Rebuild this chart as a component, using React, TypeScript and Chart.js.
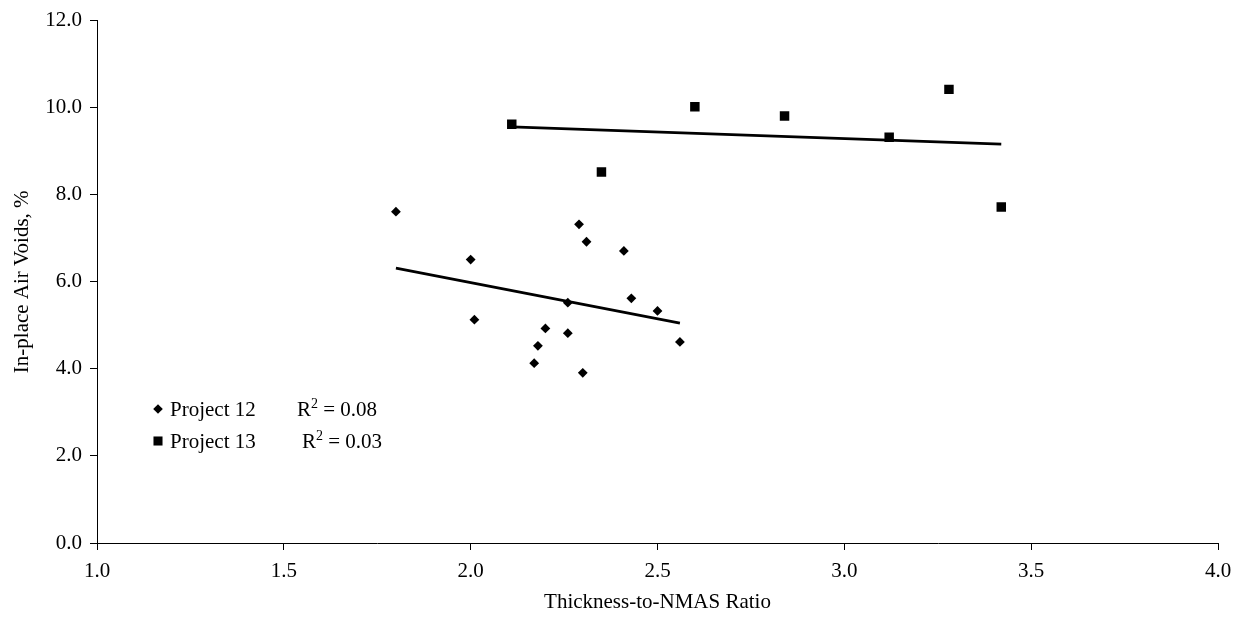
import React, { useEffect, useRef } from "react";
import { Chart, registerables } from "chart.js";

Chart.register(...registerables);

// ---- data ----
const seriesNames = ["Project 12", "Project 13"];
const project12X = [1.80, 2.00, 2.01, 2.29, 2.31, 2.41, 2.26, 2.43, 2.50, 2.20, 2.18, 2.26, 2.17, 2.30, 2.56];
const project12Y = [7.61, 6.51, 5.13, 7.32, 6.92, 6.71, 5.52, 5.62, 5.33, 4.93, 4.53, 4.82, 4.13, 3.91, 4.62];
const project13X = [2.11, 2.35, 2.60, 2.84, 3.12, 3.28, 3.42];
const project13Y = [9.62, 8.52, 10.02, 9.81, 9.32, 10.42, 7.72];
const xAxisTitle = "Thickness-to-NMAS Ratio";
const yAxisTitle = "In-place Air Voids, %";
const xRange = [1.0, 4.0];
const yRange = [0.0, 12.0];
const xStep = 0.5;
const yStep = 2.0;

const FONT = '"Liberation Serif", "Times New Roman", serif';

function regression(xs: number[], ys: number[]) {
  const n = xs.length;
  const mx = xs.reduce((a, b) => a + b, 0) / n;
  const my = ys.reduce((a, b) => a + b, 0) / n;
  let sxy = 0, sxx = 0, syy = 0;
  for (let i = 0; i < n; i++) {
    sxy += (xs[i] - mx) * (ys[i] - my);
    sxx += (xs[i] - mx) ** 2;
    syy += (ys[i] - my) ** 2;
  }
  const slope = sxy / sxx;
  const intercept = my - slope * mx;
  const r2 = (sxy * sxy) / (sxx * syy);
  const x0 = Math.min(...xs);
  const x1 = Math.max(...xs);
  return {
    r2,
    line: [
      { x: x0, y: intercept + slope * x0 },
      { x: x1, y: intercept + slope * x1 },
    ],
  };
}

const fit12 = regression(project12X, project12Y);
const fit13 = regression(project13X, project13Y);

const legendPlugin = {
  id: "excelLegend",
  afterDraw(chart: any, _args: any, opts: any) {
    const ctx = chart.ctx;
    const rows = opts.rows as any[];
    ctx.save();
    ctx.fillStyle = "#000";
    rows.forEach((row) => {
      const { mx, my, style, r, tx, rx, name, r2 } = row;
      ctx.beginPath();
      if (style === "rectRot") {
        ctx.moveTo(mx, my - r);
        ctx.lineTo(mx + r, my);
        ctx.lineTo(mx, my + r);
        ctx.lineTo(mx - r, my);
        ctx.closePath();
      } else {
        const s = Math.SQRT1_2 * r;
        ctx.rect(mx - s, my - s, 2 * s, 2 * s);
      }
      ctx.fill();
      const base = my + 7;
      ctx.font = `21px ${FONT}`;
      ctx.textAlign = "left";
      ctx.textBaseline = "alphabetic";
      ctx.fillText(name, tx, base);
      let x = rx;
      ctx.fillText("R", x, base);
      x += ctx.measureText("R").width;
      ctx.font = `14px ${FONT}`;
      ctx.fillText("2", x, base - 8);
      x += ctx.measureText("2").width;
      ctx.font = `21px ${FONT}`;
      ctx.fillText(" = " + r2.toFixed(2), x, base);
    });
    ctx.restore();
  },
};

export default function App() {
  const canvasRef = useRef<HTMLCanvasElement | null>(null);

  useEffect(() => {
    if (!canvasRef.current) return;
    const chart = new Chart(canvasRef.current, {
      type: "scatter",
      data: {
        datasets: [
          {
            label: seriesNames[0] + " trend",
            type: "line",
            data: fit12.line,
            borderColor: "#000",
            borderWidth: 2.75,
            pointRadius: 0,
            fill: false,
          } as any,
          {
            label: seriesNames[1] + " trend",
            type: "line",
            data: fit13.line,
            borderColor: "#000",
            borderWidth: 2.75,
            pointRadius: 0,
            fill: false,
          } as any,
          {
            label: seriesNames[0],
            data: project12X.map((x, i) => ({ x, y: project12Y[i] })),
            pointStyle: "rectRot",
            pointRadius: 4.9,
            backgroundColor: "#000",
            borderColor: "#000",
            borderWidth: 0,
          },
          {
            label: seriesNames[1],
            data: project13X.map((x, i) => ({ x, y: project13Y[i] })),
            pointStyle: "rect",
            pointRadius: 6.7,
            backgroundColor: "#000",
            borderColor: "#000",
            borderWidth: 0,
          },
        ],
      },
      options: {
        animation: false,
        responsive: false,
        layout: { padding: { left: 0, right: 27, top: 18, bottom: 0 } },
        plugins: {
          legend: { display: false },
          tooltip: { enabled: false },
          excelLegend: {
            rows: [
              { mx: 158, my: 409, style: "rectRot", r: 4.8, tx: 170, rx: 297, name: seriesNames[0], r2: fit12.r2 },
              { mx: 158, my: 441, style: "rect", r: 6.4, tx: 170, rx: 302, name: seriesNames[1], r2: fit13.r2 },
            ],
          },
        } as any,
        scales: {
          x: {
            type: "linear",
            min: xRange[0],
            max: xRange[1],
            ticks: {
              stepSize: xStep,
              color: "#000",
              padding: 9,
              font: { family: FONT, size: 21 },
              callback: (v: any) => Number(v).toFixed(1),
            },
            grid: { display: true, drawOnChartArea: false, drawTicks: true, tickLength: 7, color: "#000" },
            border: { display: true, color: "#000", width: 1 },
            title: {
              display: true,
              text: xAxisTitle,
              color: "#000",
              font: { family: FONT, size: 21 },
              padding: { top: 0, bottom: 9 },
            },
            afterFit: (scale: any) => {
              scale.height = 81;
            },
          },
          y: {
            type: "linear",
            min: yRange[0],
            max: yRange[1],
            ticks: {
              stepSize: yStep,
              color: "#000",
              padding: 8,
              font: { family: FONT, size: 21 },
              callback: (v: any) => Number(v).toFixed(1),
            },
            grid: { display: true, drawOnChartArea: false, drawTicks: true, tickLength: 7, color: "#000" },
            border: { display: true, color: "#000", width: 1 },
            title: {
              display: true,
              text: yAxisTitle,
              color: "#000",
              font: { family: FONT, size: 21 },
              padding: { top: 10, bottom: 0 },
            },
            afterFit: (scale: any) => {
              scale.width = 97;
            },
          },
        },
      } as any,
      plugins: [legendPlugin],
    });
    return () => chart.destroy();
  }, []);

  return (
    <div style={{ position: "absolute", left: 0, top: 0, width: 1245, height: 624, background: "#fff" }}>
      <canvas ref={canvasRef} width={1245} height={624} />
    </div>
  );
}
